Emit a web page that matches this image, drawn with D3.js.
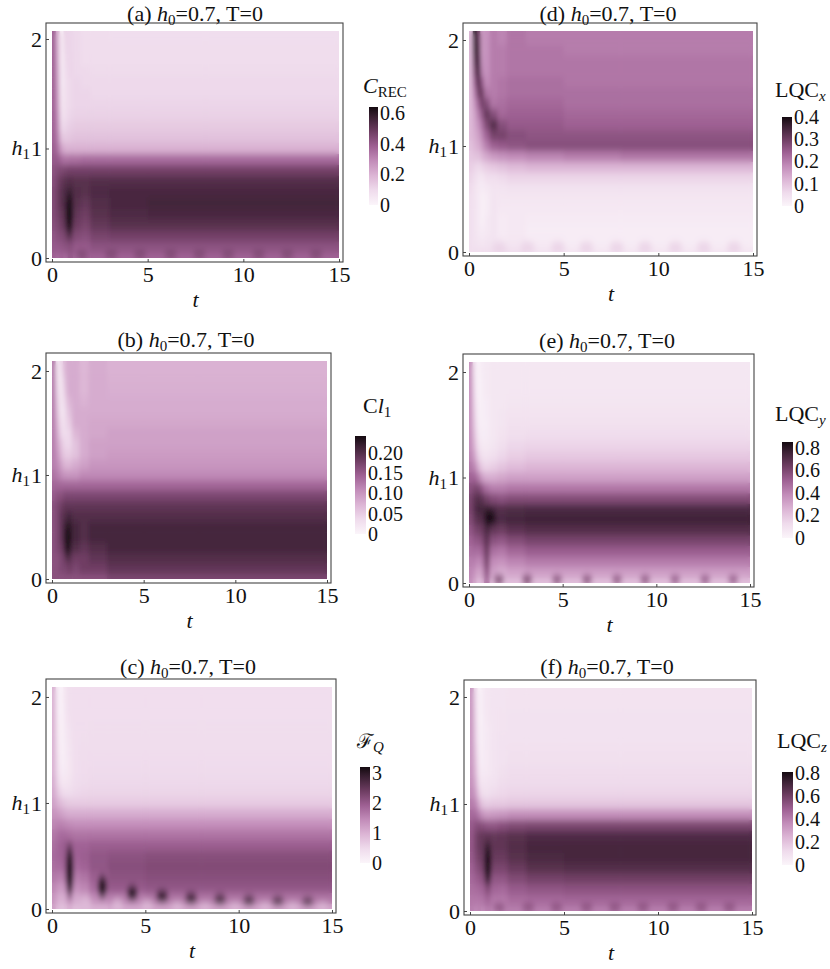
<!DOCTYPE html>
<html>
<head>
<meta charset="utf-8">
<script src="https://cdn.jsdelivr.net/npm/d3@7"></script>
<style>
    body {margin: 0; background: #fff;}
    svg {display: block;}
    text {font-family: 'Liberation Serif', 'Times New Roman', serif; fill: #111;}
</style>
</head>
<body>
<svg id="chart" width="830" height="969"></svg>
<script>
//Time Grid (column edges) And Field Rows (h1 centres, top to bottom)
const tEdges = [0, 0.2, 0.4, 0.6, 0.8, 1.1, 1.5, 2, 3, 5, 8, 15];
const hRows = [2.1, 2.0, 1.9, 1.8, 1.7, 1.6, 1.5, 1.4, 1.3, 1.2, 1.1, 1.0, 0.9, 0.8, 0.7, 0.6, 0.5, 0.4, 0.3, 0.2, 0.1, 0.0];
const xTicks = [0, 5, 10, 15];
const yTicks = [0, 1, 2];

//(a) C_REC
const crecGrid = [
    [0.38,0.20,0.02,0.12,0.11,0.10,0.09,0.09,0.085,0.085,0.085],
    [0.38,0.20,0.02,0.12,0.11,0.10,0.09,0.09,0.085,0.085,0.085],
    [0.38,0.21,0.02,0.11,0.11,0.10,0.09,0.09,0.09,0.09,0.09],
    [0.38,0.22,0.02,0.10,0.11,0.10,0.09,0.09,0.09,0.09,0.09],
    [0.38,0.23,0.03,0.09,0.11,0.10,0.10,0.095,0.095,0.095,0.095],
    [0.38,0.24,0.03,0.08,0.10,0.11,0.10,0.10,0.10,0.10,0.10],
    [0.38,0.25,0.04,0.08,0.10,0.11,0.11,0.10,0.10,0.10,0.10],
    [0.38,0.26,0.05,0.08,0.10,0.11,0.11,0.11,0.11,0.11,0.11],
    [0.38,0.28,0.07,0.09,0.11,0.12,0.12,0.12,0.12,0.12,0.12],
    [0.38,0.30,0.10,0.11,0.13,0.14,0.14,0.14,0.14,0.14,0.14],
    [0.38,0.32,0.15,0.14,0.15,0.16,0.16,0.16,0.16,0.16,0.16],
    [0.39,0.35,0.24,0.20,0.20,0.20,0.20,0.20,0.20,0.20,0.20],
    [0.40,0.40,0.36,0.34,0.35,0.35,0.36,0.36,0.36,0.36,0.36],
    [0.42,0.44,0.45,0.46,0.47,0.47,0.47,0.47,0.47,0.47,0.47],
    [0.43,0.47,0.50,0.52,0.53,0.52,0.52,0.53,0.53,0.53,0.53],
    [0.44,0.48,0.52,0.54,0.56,0.53,0.52,0.54,0.55,0.55,0.55],
    [0.44,0.48,0.52,0.54,0.58,0.52,0.50,0.53,0.55,0.56,0.56],
    [0.44,0.47,0.50,0.52,0.58,0.50,0.48,0.52,0.54,0.55,0.55],
    [0.43,0.45,0.48,0.50,0.54,0.48,0.46,0.50,0.52,0.52,0.52],
    [0.41,0.43,0.44,0.46,0.48,0.44,0.43,0.46,0.47,0.47,0.47],
    [0.40,0.40,0.41,0.42,0.43,0.40,0.40,0.42,0.42,0.42,0.42],
    [0.38,0.36,0.38,0.36,0.40,0.36,0.38,0.38,0.38,0.38,0.38]
];
//spots: [t, h1, half-width in t, half-height in h1, value]
const crecSpots = [
    [0.9, 0.4, 0.17, 0.17, 0.64],
    [1.55, 0.03, 0.3, 0.035, 0.45], [3.1, 0.03, 0.3, 0.035, 0.45], [4.6, 0.03, 0.3, 0.035, 0.45],
    [6.2, 0.03, 0.3, 0.035, 0.45], [7.7, 0.03, 0.3, 0.035, 0.45], [9.2, 0.03, 0.3, 0.035, 0.45],
    [10.8, 0.03, 0.3, 0.035, 0.45], [12.3, 0.03, 0.3, 0.035, 0.45], [13.8, 0.03, 0.3, 0.035, 0.45]
];
const crecTicks = [0, 0.2, 0.4, 0.6];

//(b) Cl1
const cl1Grid = [
    [0.12,0.02,0.04,0.07,0.08,0.08,0.07,0.08,0.075,0.075,0.075],
    [0.12,0.02,0.03,0.07,0.08,0.08,0.07,0.08,0.075,0.075,0.075],
    [0.12,0.03,0.02,0.06,0.08,0.08,0.07,0.08,0.077,0.077,0.077],
    [0.12,0.04,0.02,0.05,0.08,0.08,0.07,0.08,0.078,0.078,0.078],
    [0.12,0.05,0.02,0.04,0.07,0.08,0.075,0.08,0.08,0.08,0.08],
    [0.12,0.06,0.02,0.03,0.06,0.08,0.08,0.08,0.08,0.08,0.08],
    [0.12,0.07,0.03,0.03,0.05,0.08,0.08,0.085,0.085,0.085,0.085],
    [0.12,0.08,0.04,0.03,0.04,0.07,0.08,0.085,0.09,0.09,0.09],
    [0.12,0.09,0.06,0.04,0.04,0.06,0.08,0.09,0.09,0.09,0.09],
    [0.12,0.10,0.07,0.05,0.05,0.06,0.08,0.09,0.095,0.095,0.095],
    [0.12,0.11,0.09,0.07,0.07,0.08,0.09,0.10,0.10,0.10,0.10],
    [0.13,0.12,0.11,0.10,0.10,0.10,0.11,0.11,0.11,0.11,0.11],
    [0.14,0.14,0.14,0.14,0.14,0.14,0.14,0.14,0.14,0.14,0.14],
    [0.15,0.16,0.16,0.17,0.17,0.17,0.17,0.17,0.17,0.17,0.17],
    [0.16,0.17,0.18,0.19,0.19,0.19,0.19,0.19,0.19,0.19,0.19],
    [0.16,0.17,0.19,0.20,0.21,0.20,0.20,0.20,0.20,0.20,0.20],
    [0.16,0.17,0.19,0.21,0.22,0.21,0.20,0.21,0.21,0.21,0.21],
    [0.16,0.17,0.19,0.21,0.22,0.21,0.20,0.21,0.21,0.21,0.21],
    [0.16,0.17,0.18,0.20,0.21,0.20,0.19,0.20,0.21,0.21,0.21],
    [0.16,0.16,0.17,0.18,0.19,0.18,0.18,0.19,0.20,0.20,0.20],
    [0.16,0.16,0.17,0.17,0.18,0.17,0.18,0.18,0.19,0.19,0.19],
    [0.16,0.16,0.16,0.16,0.16,0.16,0.16,0.16,0.17,0.17,0.17]
];
const cl1Spots = [[0.85, 0.37, 0.15, 0.15, 0.24]];
const cl1Ticks = [0, 0.05, 0.10, 0.15, 0.20];

//(c) F_Q
const fqGrid = [
    [1.0,0.15,0.05,0.30,0.40,0.42,0.42,0.42,0.42,0.42,0.42],
    [1.0,0.15,0.05,0.30,0.40,0.42,0.42,0.42,0.42,0.42,0.42],
    [1.0,0.18,0.05,0.28,0.40,0.42,0.42,0.42,0.42,0.42,0.42],
    [1.0,0.22,0.05,0.25,0.38,0.42,0.42,0.42,0.42,0.42,0.42],
    [1.0,0.26,0.06,0.22,0.36,0.42,0.42,0.43,0.43,0.43,0.43],
    [1.0,0.30,0.07,0.20,0.34,0.42,0.43,0.44,0.44,0.44,0.44],
    [1.0,0.34,0.09,0.18,0.32,0.42,0.44,0.45,0.45,0.45,0.45],
    [1.0,0.40,0.12,0.18,0.30,0.42,0.45,0.46,0.46,0.46,0.46],
    [1.0,0.46,0.18,0.20,0.30,0.42,0.46,0.48,0.48,0.48,0.48],
    [1.05,0.56,0.28,0.26,0.34,0.44,0.48,0.50,0.50,0.50,0.50],
    [1.1,0.75,0.50,0.42,0.44,0.50,0.54,0.56,0.56,0.56,0.56],
    [1.2,1.0,0.85,0.75,0.70,0.68,0.68,0.68,0.68,0.68,0.68],
    [1.35,1.3,1.2,1.1,1.05,1.05,1.05,1.05,1.05,1.05,1.05],
    [1.5,1.55,1.55,1.5,1.45,1.4,1.4,1.4,1.4,1.4,1.4],
    [1.65,1.75,1.8,1.8,1.75,1.7,1.7,1.7,1.7,1.7,1.7],
    [1.75,1.85,1.9,2.0,2.0,1.9,1.9,1.95,1.95,1.95,1.95],
    [1.8,1.85,1.9,2.0,2.1,1.9,1.95,2.05,2.1,2.15,2.15],
    [1.75,1.8,1.8,1.9,2.1,1.8,1.9,2.05,2.15,2.2,2.2],
    [1.65,1.6,1.55,1.7,2.0,1.6,1.7,1.95,2.1,2.15,2.15],
    [1.5,1.35,1.25,1.4,1.8,1.4,1.5,1.8,2.0,2.05,2.05],
    [1.35,1.1,1.0,1.1,1.4,1.1,1.2,1.45,1.6,1.7,1.7],
    [1.2,0.9,0.8,0.85,1.0,0.85,0.9,1.0,1.1,1.15,1.15]
];
const fqSpots = [
    [0.95, 0.36, 0.18, 0.2, 3.2], [2.7, 0.21, 0.22, 0.09, 3.15], [4.3, 0.15, 0.25, 0.06, 3.1],
    [5.9, 0.12, 0.28, 0.05, 3.0], [7.45, 0.10, 0.28, 0.045, 2.95], [9.0, 0.09, 0.28, 0.04, 2.9],
    [10.55, 0.08, 0.28, 0.038, 2.85], [12.1, 0.075, 0.28, 0.035, 2.8], [13.7, 0.07, 0.28, 0.033, 2.75],
    [1.8, 0.04, 0.3, 0.07, 0.9], [3.5, 0.03, 0.3, 0.06, 0.9], [5.1, 0.03, 0.3, 0.05, 0.9],
    [6.7, 0.02, 0.3, 0.045, 0.9], [8.2, 0.02, 0.3, 0.04, 0.9], [9.8, 0.02, 0.3, 0.04, 0.9],
    [11.4, 0.02, 0.3, 0.04, 0.9], [12.9, 0.02, 0.3, 0.04, 0.9], [14.5, 0.02, 0.3, 0.04, 0.9]
];
const fqTicks = [0, 1, 2, 3];

//(d) LQC_x
const lqcxGrid = [
    [0.11,0.38,0.30,0.16,0.17,0.20,0.19,0.21,0.20,0.20,0.20],
    [0.11,0.38,0.32,0.16,0.17,0.20,0.19,0.21,0.20,0.20,0.20],
    [0.11,0.36,0.34,0.16,0.17,0.20,0.20,0.21,0.21,0.20,0.20],
    [0.11,0.32,0.36,0.17,0.17,0.20,0.20,0.21,0.21,0.21,0.21],
    [0.11,0.28,0.36,0.19,0.17,0.20,0.20,0.21,0.21,0.21,0.21],
    [0.11,0.24,0.34,0.25,0.18,0.20,0.21,0.22,0.22,0.21,0.21],
    [0.11,0.20,0.30,0.30,0.21,0.20,0.21,0.22,0.22,0.22,0.22],
    [0.11,0.17,0.24,0.30,0.27,0.21,0.22,0.23,0.23,0.22,0.22],
    [0.11,0.15,0.20,0.26,0.31,0.27,0.23,0.24,0.24,0.23,0.23],
    [0.11,0.14,0.17,0.22,0.28,0.33,0.27,0.25,0.25,0.24,0.24],
    [0.11,0.13,0.15,0.19,0.24,0.29,0.29,0.27,0.26,0.26,0.26],
    [0.10,0.12,0.13,0.16,0.20,0.24,0.25,0.26,0.27,0.27,0.27],
    [0.09,0.10,0.10,0.12,0.14,0.16,0.17,0.18,0.19,0.20,0.21],
    [0.08,0.07,0.06,0.07,0.08,0.09,0.10,0.11,0.12,0.12,0.12],
    [0.07,0.05,0.04,0.03,0.05,0.05,0.06,0.07,0.07,0.07,0.07],
    [0.06,0.04,0.03,0.02,0.03,0.04,0.04,0.045,0.045,0.045,0.045],
    [0.05,0.04,0.03,0.01,0.02,0.04,0.035,0.035,0.035,0.035,0.035],
    [0.05,0.04,0.03,0.01,0.02,0.04,0.03,0.03,0.03,0.03,0.03],
    [0.05,0.04,0.03,0.01,0.03,0.04,0.025,0.03,0.025,0.025,0.025],
    [0.05,0.04,0.03,0.02,0.03,0.04,0.025,0.03,0.02,0.02,0.02],
    [0.05,0.04,0.04,0.03,0.04,0.04,0.03,0.035,0.025,0.02,0.02],
    [0.05,0.05,0.05,0.05,0.05,0.05,0.05,0.05,0.04,0.035,0.035]
];
const lqcxSpots = [
    [1.6, 0.04, 0.35, 0.05, 0.075], [3.1, 0.04, 0.35, 0.05, 0.075], [4.7, 0.04, 0.35, 0.05, 0.075],
    [6.2, 0.04, 0.35, 0.05, 0.075], [7.8, 0.04, 0.35, 0.05, 0.075], [9.3, 0.04, 0.35, 0.05, 0.075],
    [10.9, 0.04, 0.35, 0.05, 0.075], [12.4, 0.04, 0.35, 0.05, 0.075], [14.0, 0.04, 0.35, 0.05, 0.075]
];
const lqcxTicks = [0, 0.1, 0.2, 0.3, 0.4];

//(e) LQC_y
const lqcyGrid = [
    [0.36,0.08,0.01,0.05,0.06,0.07,0.07,0.07,0.07,0.07,0.07],
    [0.36,0.08,0.01,0.05,0.06,0.07,0.07,0.07,0.07,0.07,0.07],
    [0.36,0.10,0.01,0.04,0.06,0.07,0.07,0.07,0.07,0.07,0.07],
    [0.36,0.12,0.01,0.04,0.06,0.07,0.07,0.075,0.075,0.075,0.075],
    [0.36,0.14,0.02,0.03,0.05,0.07,0.07,0.08,0.08,0.08,0.08],
    [0.36,0.16,0.03,0.03,0.05,0.07,0.08,0.09,0.09,0.09,0.09],
    [0.36,0.18,0.04,0.03,0.04,0.07,0.08,0.10,0.10,0.10,0.10],
    [0.37,0.21,0.06,0.04,0.05,0.07,0.09,0.11,0.12,0.12,0.12],
    [0.38,0.25,0.10,0.06,0.06,0.08,0.11,0.14,0.15,0.15,0.15],
    [0.40,0.31,0.16,0.10,0.09,0.11,0.14,0.17,0.19,0.19,0.19],
    [0.44,0.40,0.27,0.17,0.15,0.17,0.20,0.23,0.25,0.25,0.25],
    [0.50,0.50,0.43,0.33,0.28,0.28,0.30,0.32,0.32,0.32,0.32],
    [0.56,0.60,0.60,0.54,0.46,0.42,0.42,0.44,0.44,0.44,0.44],
    [0.60,0.68,0.70,0.68,0.62,0.58,0.56,0.58,0.58,0.58,0.58],
    [0.60,0.70,0.74,0.74,0.74,0.72,0.70,0.71,0.72,0.72,0.72],
    [0.58,0.66,0.70,0.70,0.76,0.76,0.72,0.74,0.75,0.75,0.75],
    [0.54,0.60,0.62,0.64,0.72,0.66,0.64,0.68,0.70,0.70,0.70],
    [0.50,0.54,0.54,0.58,0.68,0.56,0.54,0.58,0.61,0.61,0.61],
    [0.46,0.48,0.46,0.50,0.64,0.46,0.44,0.49,0.52,0.52,0.52],
    [0.42,0.42,0.38,0.42,0.60,0.38,0.36,0.40,0.43,0.43,0.43],
    [0.40,0.36,0.30,0.34,0.54,0.32,0.28,0.31,0.33,0.33,0.33],
    [0.38,0.30,0.22,0.24,0.46,0.22,0.20,0.22,0.22,0.22,0.22]
];
const lqcySpots = [
    [1.1, 0.62, 0.25, 0.07, 0.85],
    [1.6, 0.03, 0.25, 0.04, 0.62], [3.1, 0.03, 0.25, 0.04, 0.62], [4.7, 0.03, 0.25, 0.035, 0.6],
    [6.3, 0.03, 0.25, 0.035, 0.6], [7.9, 0.03, 0.25, 0.035, 0.58], [9.4, 0.03, 0.25, 0.035, 0.58],
    [11.0, 0.03, 0.25, 0.035, 0.56], [12.6, 0.03, 0.25, 0.035, 0.56], [14.1, 0.03, 0.25, 0.035, 0.56]
];
const lqcyTicks = [0, 0.2, 0.4, 0.6, 0.8];

//(f) LQC_z
const lqczGrid = [
    [0.33,0.12,0.01,0.05,0.07,0.08,0.08,0.085,0.085,0.085,0.085],
    [0.33,0.12,0.01,0.05,0.07,0.08,0.08,0.085,0.085,0.085,0.085],
    [0.33,0.13,0.01,0.05,0.07,0.08,0.08,0.085,0.085,0.085,0.085],
    [0.33,0.14,0.01,0.04,0.07,0.08,0.085,0.09,0.09,0.09,0.09],
    [0.33,0.15,0.02,0.04,0.06,0.08,0.085,0.09,0.09,0.09,0.09],
    [0.33,0.16,0.02,0.04,0.06,0.08,0.09,0.09,0.09,0.09,0.09],
    [0.33,0.18,0.03,0.04,0.06,0.08,0.09,0.095,0.095,0.095,0.095],
    [0.33,0.20,0.04,0.04,0.06,0.08,0.09,0.10,0.10,0.10,0.10],
    [0.34,0.22,0.06,0.05,0.06,0.08,0.10,0.11,0.11,0.11,0.11],
    [0.35,0.26,0.09,0.07,0.08,0.09,0.11,0.12,0.12,0.12,0.12],
    [0.37,0.31,0.15,0.10,0.10,0.12,0.13,0.14,0.14,0.14,0.14],
    [0.41,0.38,0.26,0.18,0.17,0.18,0.18,0.19,0.19,0.19,0.19],
    [0.46,0.46,0.40,0.34,0.32,0.33,0.34,0.36,0.36,0.36,0.36],
    [0.50,0.54,0.55,0.54,0.52,0.52,0.54,0.56,0.57,0.57,0.57],
    [0.51,0.58,0.62,0.63,0.64,0.63,0.64,0.66,0.68,0.68,0.68],
    [0.51,0.58,0.62,0.64,0.68,0.64,0.64,0.67,0.70,0.70,0.70],
    [0.50,0.56,0.60,0.62,0.70,0.62,0.62,0.66,0.69,0.70,0.70],
    [0.48,0.53,0.56,0.59,0.68,0.58,0.58,0.62,0.66,0.67,0.67],
    [0.46,0.49,0.51,0.54,0.62,0.52,0.52,0.56,0.59,0.60,0.60],
    [0.44,0.45,0.46,0.48,0.54,0.47,0.46,0.50,0.52,0.53,0.53],
    [0.42,0.42,0.42,0.43,0.47,0.42,0.42,0.45,0.46,0.47,0.47],
    [0.40,0.37,0.39,0.37,0.40,0.37,0.39,0.40,0.40,0.40,0.40]
];
const lqczSpots = [
    [0.95, 0.44, 0.16, 0.16, 0.81],
    [1.55, 0.03, 0.3, 0.035, 0.54], [3.1, 0.03, 0.3, 0.035, 0.54], [4.6, 0.03, 0.3, 0.035, 0.54],
    [6.2, 0.03, 0.3, 0.035, 0.54], [7.7, 0.03, 0.3, 0.035, 0.54], [9.2, 0.03, 0.3, 0.035, 0.54],
    [10.8, 0.03, 0.3, 0.035, 0.54], [12.3, 0.03, 0.3, 0.035, 0.54], [13.8, 0.03, 0.3, 0.035, 0.54]
];
const lqczTicks = [0, 0.2, 0.4, 0.6, 0.8];

//Colour Map (fraction of the bar maximum -> colour)
const colourPos = [0, 0.15, 0.3, 0.45, 0.6, 0.75, 0.9, 1];
const colourHex = ["#fbf5fa", "#efdbec", "#dcb5d5", "#c28cb9", "#9e6093", "#6e3d62", "#3a2033", "#140a10"];

//Panel Layout
const panels = [
    {id: "a", grid: crecGrid, spots: crecSpots, max: 0.64, ticks: crecTicks, fmt: ".1f",
     box: {l: 52, r: 339, t: 31, b: 258}, hTop: 2.073, titleX: 195, titleY: 21,
     bar: {x: 369, w: 9, t: 107, b: 205}, label: "crec", labelX: 363, labelY: 93},
    {id: "b", grid: cl1Grid, spots: cl1Spots, max: 0.241, ticks: cl1Ticks, fmt: ".2f",
     box: {l: 52, r: 327, t: 361, b: 579}, hTop: 2.096, titleX: 186, titleY: 347,
     bar: {x: 355, w: 11, t: 436, b: 534}, label: "cl1", labelX: 363, labelY: 413},
    {id: "c", grid: fqGrid, spots: fqSpots, max: 3.2, ticks: fqTicks, fmt: "d",
     box: {l: 52, r: 332, t: 687, b: 909}, hTop: 2.094, titleX: 188, titleY: 674,
     bar: {x: 360, w: 10, t: 767, b: 863}, label: "fq", labelX: 357, labelY: 748},
    {id: "d", grid: lqcxGrid, spots: lqcxSpots, max: 0.4, ticks: lqcxTicks, fmt: ".1f",
     box: {l: 469, r: 753, t: 31, b: 252}, hTop: 2.085, titleX: 608, titleY: 21,
     bar: {x: 782, w: 10, t: 117, b: 206}, label: "x", labelX: 775, labelY: 97},
    {id: "e", grid: lqcyGrid, spots: lqcySpots, max: 0.85, ticks: lqcyTicks, fmt: ".1f",
     box: {l: 469, r: 750, t: 362, b: 583}, hTop: 2.095, titleX: 607, titleY: 348,
     bar: {x: 782, w: 11, t: 442, b: 538}, label: "y", labelX: 775, labelY: 421},
    {id: "f", grid: lqczGrid, spots: lqczSpots, max: 0.81, ticks: lqczTicks, fmt: ".1f",
     box: {l: 470, r: 752, t: 688, b: 911}, hTop: 2.084, titleX: 607, titleY: 674,
     bar: {x: 782, w: 11, t: 772, b: 865}, label: "z", labelX: 777, labelY: 748}
];

let svg = d3.select("#chart");
let defs = svg.append("defs");

//Soft Blur For The Density Cells
defs.append("filter").attr("id", "soft")
    .attr("x", "-5%").attr("y", "-5%").attr("width", "110%").attr("height", "110%")
    .append("feGaussianBlur").attr("stdDeviation", "2.2 3.6");

panels.forEach(renderPanel);

function renderPanel(p) {
    let x = d3.scaleLinear().domain([0, 15]).range([p.box.l, p.box.r]);
    let y = d3.scaleLinear().domain([0, p.hTop]).range([p.box.b, p.box.t]);
    let colour = d3.scaleLinear().domain(colourPos.map(d => d * p.max)).range(colourHex).clamp(true);

    //Build The Cells From The Grid
    let cells = [];
    p.grid.forEach((row, i) => {
        row.forEach((v, j) => {
            cells.push({t0: tEdges[j], t1: tEdges[j + 1],
                h0: Math.max(0, hRows[i] - 0.05), h1: Math.min(p.hTop, hRows[i] + 0.05), v: v});
        });
    });

    defs.append("clipPath").attr("id", "clip-" + p.id)
        .append("rect")
        .attr("x", x(0)).attr("y", y(p.hTop))
        .attr("width", x(15) - x(0)).attr("height", y(0) - y(p.hTop));

    let plot = svg.append("g").attr("clip-path", "url(#clip-" + p.id + ")");

    function drawCells(g) {
        g.selectAll("rect").data(cells).enter().append("rect")
            .attr("x", d => x(d.t0))
            .attr("y", d => y(d.h1))
            .attr("width", d => x(d.t1) - x(d.t0) + 0.5)
            .attr("height", d => y(d.h0) - y(d.h1) + 0.5)
            .attr("fill", d => colour(d.v));
    }

    drawCells(plot.append("g"));
    let soft = plot.append("g").attr("filter", "url(#soft)");
    drawCells(soft);

    //Spots With Radial Fade
    p.spots.forEach((s, k) => {
        let gid = "sp-" + p.id + "-" + k;
        let grad = defs.append("radialGradient").attr("id", gid);
        grad.append("stop").attr("offset", "0%").attr("stop-color", colour(s[4])).attr("stop-opacity", 1);
        grad.append("stop").attr("offset", "45%").attr("stop-color", colour(s[4])).attr("stop-opacity", 0.85);
        grad.append("stop").attr("offset", "100%").attr("stop-color", colour(s[4])).attr("stop-opacity", 0);
    });
    soft.selectAll("ellipse").data(p.spots).enter().append("ellipse")
        .attr("cx", d => x(d[0]))
        .attr("cy", d => y(d[1]))
        .attr("rx", d => (x(d[0] + d[2]) - x(d[0])) * 1.5)
        .attr("ry", d => (y(d[1]) - y(d[1] + d[3])) * 1.5)
        .attr("fill", (d, k) => "url(#sp-" + p.id + "-" + k + ")");

    //Frame
    let fl = p.box.l - 6, fr = p.box.r + 4, ft = p.box.t - 8, fb = p.box.b + 4;
    svg.append("rect").attr("x", fl).attr("y", ft).attr("width", fr - fl).attr("height", fb - ft)
        .attr("fill", "none").attr("stroke", "#444").attr("stroke-width", 1.1);

    //Axes
    let xAxis = d3.axisBottom(x).tickValues(xTicks).tickSize(-3).tickPadding(4).tickFormat(d3.format("d"));
    let yAxis = d3.axisLeft(y).tickValues(yTicks).tickSize(-3).tickPadding(4).tickFormat(d3.format("d"));

    let gx = svg.append("g").attr("transform", "translate(0," + fb + ")").call(xAxis);
    let gy = svg.append("g").attr("transform", "translate(" + fl + ",0)").call(yAxis);
    [gx, gy].forEach(g => {
        g.select(".domain").remove();
        g.selectAll("line").attr("stroke", "#444");
        g.selectAll("text").attr("font-size", 22).attr("fill", "#111")
            .style("font-family", "'Liberation Serif', serif");
    });
    gy.selectAll("text").attr("dy", "0.34em");

    //Axis Labels
    svg.append("text").attr("x", (p.box.l + p.box.r) / 2).attr("y", fb + 45)
        .attr("text-anchor", "middle").attr("font-size", 22).attr("font-style", "italic").text("t");

    let hl = svg.append("text").attr("x", fl - 16).attr("y", y(1) + 7)
        .attr("text-anchor", "end").attr("font-size", 22);
    hl.append("tspan").attr("font-style", "italic").text("h");
    hl.append("tspan").attr("font-size", 15).attr("dy", 4).text("1");

    //Title
    let title = svg.append("text").attr("x", p.titleX).attr("y", p.titleY)
        .attr("text-anchor", "middle").attr("font-size", 22);
    title.append("tspan").text("(" + p.id + ") ");
    title.append("tspan").attr("font-style", "italic").text("h");
    title.append("tspan").attr("font-size", 15).attr("dy", 4).text("0");
    title.append("tspan").attr("dy", -4).text("=0.7, T=0");

    renderColourBar(p, colour);
}

function renderColourBar(p, colour) {
    let cb = d3.scaleLinear().domain([0, p.max]).range([p.bar.b, p.bar.t]);
    let gid = "bar-" + p.id;
    let grad = defs.append("linearGradient").attr("id", gid)
        .attr("x1", 0).attr("y1", 1).attr("x2", 0).attr("y2", 0);
    colourPos.forEach((c, i) => {
        grad.append("stop").attr("offset", (c * 100) + "%").attr("stop-color", colourHex[i]);
    });
    svg.append("rect").attr("x", p.bar.x).attr("y", p.bar.t)
        .attr("width", p.bar.w).attr("height", p.bar.b - p.bar.t)
        .attr("fill", "url(#" + gid + ")");

    let fmt = d3.format(p.fmt);
    let axis = d3.axisRight(cb).tickValues(p.ticks).tickSize(0).tickPadding(2)
        .tickFormat(d => d === 0 ? "0" : fmt(d));
    let g = svg.append("g").attr("transform", "translate(" + (p.bar.x + p.bar.w) + ",0)").call(axis);
    g.select(".domain").remove();
    g.selectAll("text").attr("font-size", 20).attr("fill", "#111")
        .style("font-family", "'Liberation Serif', serif");

    //Bar Label
    let t = svg.append("text").attr("x", p.labelX).attr("y", p.labelY).attr("font-size", 22);
    if (p.label === "crec") {
        t.append("tspan").attr("font-style", "italic").text("C");
        t.append("tspan").attr("font-size", 15).attr("dy", 4).text("REC");
    } else if (p.label === "cl1") {
        t.append("tspan").text("C");
        t.append("tspan").attr("font-style", "italic").text("l");
        t.append("tspan").attr("font-size", 15).attr("dy", 4).text("1");
    } else if (p.label === "fq") {
        t.append("tspan").style("font-family", "'DejaVu Serif', serif").attr("font-size", 20).text("\u2131");
        t.append("tspan").attr("font-style", "italic").attr("font-size", 15).attr("dy", 4).text("Q");
    } else {
        t.append("tspan").text("LQC");
        t.append("tspan").attr("font-style", "italic").attr("font-size", 15).attr("dy", 4).text(p.label);
    }
}
</script>
</body>
</html>
